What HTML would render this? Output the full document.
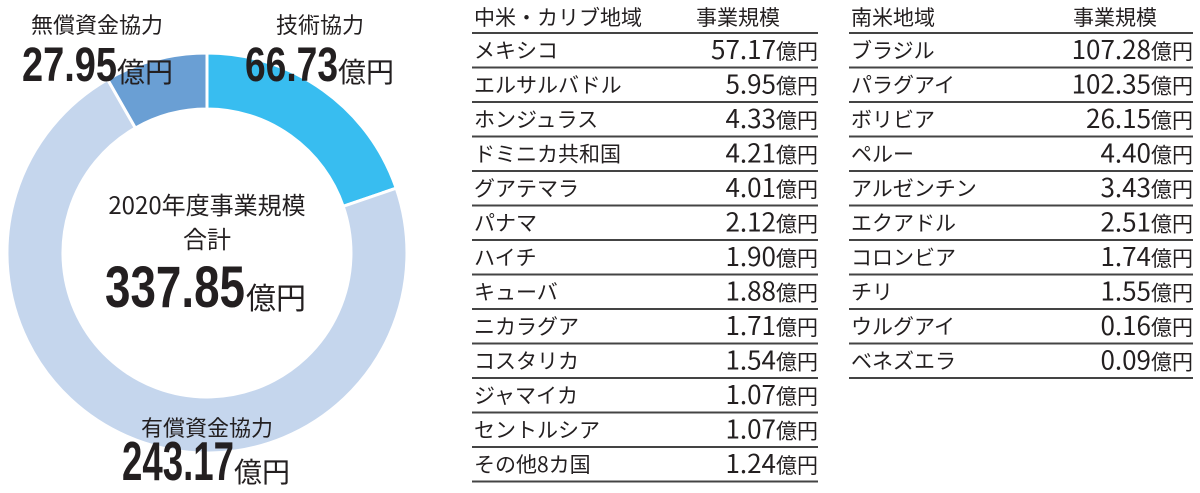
<!DOCTYPE html>
<html><head><meta charset="utf-8"><style>
body{margin:0;background:#fff}
svg{display:block}
text{fill:#231f20}
.j{font-family:"Liberation Sans Narrow","Noto Sans CJK JP",sans-serif;font-size:21px}
.c{font-family:"Noto Sans CJK JP",sans-serif}
.b{font-family:"Liberation Sans Narrow","Liberation Sans",sans-serif;font-weight:bold}
</style></head><body>
<svg width="1200" height="493" viewBox="0 0 1200 493">
<g stroke="#fff" stroke-width="3">
<path d="M207 53 A200 200 0 0 1 396.2 188.2 L343.2 206.3 A144 144 0 0 0 207 109 Z" fill="#38bdf0"/>
<path d="M396.2 188.2 A200 200 0 1 1 107.6 79.4 L135.4 128 A144 144 0 1 0 343.2 206.3 Z" fill="#c5d6ed"/>
<path d="M107.6 79.4 A200 200 0 0 1 207 53 L207 109 A144 144 0 0 0 135.4 128 Z" fill="#6a9fd4"/>
</g>
<text class="c" x="97" y="33" font-size="22" text-anchor="middle">無償資金協力</text>
<text class="b" x="22" y="81" font-size="48" textLength="95" lengthAdjust="spacingAndGlyphs">27.95</text>
<text class="c" x="117" y="82" font-size="28">億円</text>
<text class="c" x="320" y="33" font-size="22" text-anchor="middle">技術協力</text>
<text class="b" x="245" y="81" font-size="48" textLength="93" lengthAdjust="spacingAndGlyphs">66.73</text>
<text class="c" x="338" y="82" font-size="28">億円</text>
<text class="c" x="207" y="214" font-size="24" text-anchor="middle">2020年度事業規模</text>
<text class="c" x="207" y="248" font-size="24" text-anchor="middle">合計</text>
<text class="b" x="105" y="307" font-size="58" textLength="140" lengthAdjust="spacingAndGlyphs">337.85</text>
<text class="c" x="246" y="309" font-size="30">億円</text>
<text class="c" x="207" y="436" font-size="22" text-anchor="middle">有償資金協力</text>
<text class="b" x="122" y="480" font-size="55" textLength="112" lengthAdjust="spacingAndGlyphs">243.17</text>
<text class="c" x="234" y="482" font-size="28">億円</text>
<g class="j">
<text x="474" y="25">中米・カリブ地域</text><text x="696" y="25">事業規模</text>
<text x="851" y="25">南米地域</text><text x="1073" y="25">事業規模</text>
</g>
<g stroke="#444" stroke-width="2">
<line x1="472" x2="818" y1="33" y2="33"/><line x1="472" x2="818" y1="67.5" y2="67.5"/><line x1="472" x2="818" y1="102" y2="102"/><line x1="472" x2="818" y1="136.5" y2="136.5"/><line x1="472" x2="818" y1="171" y2="171"/><line x1="472" x2="818" y1="205.5" y2="205.5"/><line x1="472" x2="818" y1="240" y2="240"/><line x1="472" x2="818" y1="274.5" y2="274.5"/><line x1="472" x2="818" y1="309" y2="309"/><line x1="472" x2="818" y1="343.5" y2="343.5"/><line x1="472" x2="818" y1="378" y2="378"/><line x1="472" x2="818" y1="412.5" y2="412.5"/><line x1="472" x2="818" y1="447" y2="447"/><line x1="472" x2="818" y1="481.5" y2="481.5"/>
<line x1="849" x2="1193" y1="33" y2="33"/><line x1="849" x2="1193" y1="67.5" y2="67.5"/><line x1="849" x2="1193" y1="102" y2="102"/><line x1="849" x2="1193" y1="136.5" y2="136.5"/><line x1="849" x2="1193" y1="171" y2="171"/><line x1="849" x2="1193" y1="205.5" y2="205.5"/><line x1="849" x2="1193" y1="240" y2="240"/><line x1="849" x2="1193" y1="274.5" y2="274.5"/><line x1="849" x2="1193" y1="309" y2="309"/><line x1="849" x2="1193" y1="343.5" y2="343.5"/><line x1="849" x2="1193" y1="378" y2="378"/>
</g>
<g class="j">
<text x="474" y="58">メキシコ</text>
<text x="474" y="92.5">エルサルバドル</text>
<text x="474" y="127">ホンジュラス</text>
<text x="474" y="161.5">ドミニカ共和国</text>
<text x="474" y="196">グアテマラ</text>
<text x="474" y="230.5">パナマ</text>
<text x="474" y="265">ハイチ</text>
<text x="474" y="299.5">キューバ</text>
<text x="474" y="334">ニカラグア</text>
<text x="474" y="368.5">コスタリカ</text>
<text x="474" y="403">ジャマイカ</text>
<text x="474" y="437.5">セントルシア</text>
<text x="474" y="472">その他8カ国</text>
</g>
<g class="j" text-anchor="end" font-size="24">
<text x="818" y="59"><tspan font-size="26">57.17</tspan>億円</text>
<text x="818" y="93.5"><tspan font-size="26">5.95</tspan>億円</text>
<text x="818" y="128"><tspan font-size="26">4.33</tspan>億円</text>
<text x="818" y="162.5"><tspan font-size="26">4.21</tspan>億円</text>
<text x="818" y="197"><tspan font-size="26">4.01</tspan>億円</text>
<text x="818" y="231.5"><tspan font-size="26">2.12</tspan>億円</text>
<text x="818" y="266"><tspan font-size="26">1.90</tspan>億円</text>
<text x="818" y="300.5"><tspan font-size="26">1.88</tspan>億円</text>
<text x="818" y="335"><tspan font-size="26">1.71</tspan>億円</text>
<text x="818" y="369.5"><tspan font-size="26">1.54</tspan>億円</text>
<text x="818" y="404"><tspan font-size="26">1.07</tspan>億円</text>
<text x="818" y="438.5"><tspan font-size="26">1.07</tspan>億円</text>
<text x="818" y="473"><tspan font-size="26">1.24</tspan>億円</text>
</g>
<g class="j">
<text x="851" y="58">ブラジル</text>
<text x="851" y="92.5">パラグアイ</text>
<text x="851" y="127">ボリビア</text>
<text x="851" y="161.5">ペルー</text>
<text x="851" y="196">アルゼンチン</text>
<text x="851" y="230.5">エクアドル</text>
<text x="851" y="265">コロンビア</text>
<text x="851" y="299.5">チリ</text>
<text x="851" y="334">ウルグアイ</text>
<text x="851" y="368.5">ベネズエラ</text>
</g>
<g class="j" text-anchor="end" font-size="24">
<text x="1193" y="59"><tspan font-size="26">107.28</tspan>億円</text>
<text x="1193" y="93.5"><tspan font-size="26">102.35</tspan>億円</text>
<text x="1193" y="128"><tspan font-size="26">26.15</tspan>億円</text>
<text x="1193" y="162.5"><tspan font-size="26">4.40</tspan>億円</text>
<text x="1193" y="197"><tspan font-size="26">3.43</tspan>億円</text>
<text x="1193" y="231.5"><tspan font-size="26">2.51</tspan>億円</text>
<text x="1193" y="266"><tspan font-size="26">1.74</tspan>億円</text>
<text x="1193" y="300.5"><tspan font-size="26">1.55</tspan>億円</text>
<text x="1193" y="335"><tspan font-size="26">0.16</tspan>億円</text>
<text x="1193" y="369.5"><tspan font-size="26">0.09</tspan>億円</text>
</g>
</svg>
</body></html>
